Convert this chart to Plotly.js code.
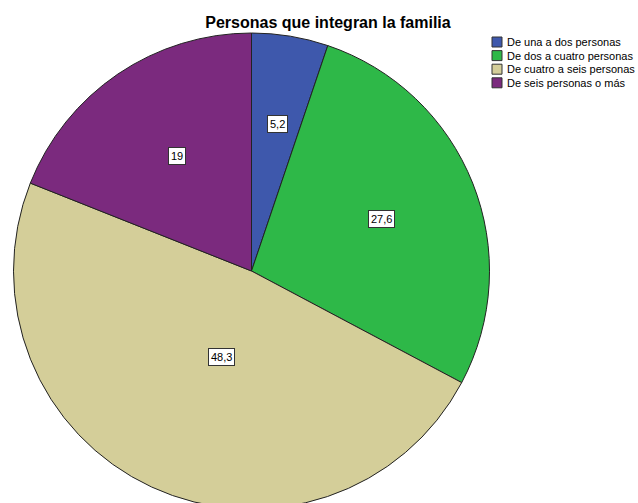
<!DOCTYPE html>
<html>
<head>
<meta charset="utf-8">
<script src="https://cdn.plot.ly/plotly-3.0.1.min.js"></script>
<style>
html,body{margin:0;padding:0;overflow:hidden;background:#fff;}
#chart{width:638px;height:516px;}
</style>
</head>
<body>
<div id="chart"></div>
<script>
const categories = ["De una a dos personas", "De dos a cuatro personas", "De cuatro a seis personas", "De seis personas o más"];
const values = [5.2, 27.6, 48.3, 19];
const valueLabels = ["5,2", "27,6", "48,3", "19"];
const colors = ["#3E58AC", "#2EB848", "#D4CE99", "#7B2A7E"];

const W = 638, H = 516;
const cx = 251.5, cy = 271, R = 238;
const FONT = "Liberation Sans, Arial, sans-serif";

const domX = [(cx - R) / W, (cx + R) / W];
const domY = [(H - cy - R) / H, (H - cy + R) / H];

// value labels placed at sector centroids (derived from the values)
const total = values.reduce((a, b) => a + b, 0);
let cum = 0;
const annotations = values.map((v, i) => {
  const half = Math.PI * v / total;
  const mid = 2 * Math.PI * (cum + v / 2) / total;
  cum += v;
  const d = R * (2 * Math.sin(half) / (3 * half));
  const px = cx + d * Math.sin(mid);
  const py = cy - d * Math.cos(mid);
  return {
    x: px / W, y: (H - py) / H, xref: "paper", yref: "paper",
    text: valueLabels[i], showarrow: false,
    font: {family: FONT, size: 11, color: "#000"},
    bgcolor: "#ffffff", bordercolor: "#333333", borderwidth: 1, borderpad: 2
  };
});

// compact legend (SPSS style) built from categories and colors
const legX = 492, legY = 42, legStep = 13.6, sq = 10;
const shapes = [];
categories.forEach((c, i) => {
  const yc = legY + i * legStep;
  shapes.push({
    type: "rect", xref: "paper", yref: "paper",
    x0: legX / W, x1: (legX + sq) / W,
    y0: (H - (yc + sq / 2)) / H, y1: (H - (yc - sq / 2)) / H,
    fillcolor: colors[i], line: {color: "#333333", width: 1}
  });
  annotations.push({
    x: (legX + sq + 3) / W, y: (H - yc) / H, xref: "paper", yref: "paper",
    xanchor: "left", yanchor: "middle",
    text: c, showarrow: false,
    font: {family: FONT, size: 11, color: "#000"}
  });
});

const data = [{
  type: "pie",
  labels: categories,
  values: values,
  sort: false,
  direction: "clockwise",
  rotation: 0,
  textinfo: "none",
  hoverinfo: "label+value",
  marker: {colors: colors, line: {color: "#222222", width: 1}},
  domain: {x: domX, y: domY}
}];

const layout = {
  width: W, height: H,
  margin: {l: 0, r: 0, t: 0, b: 0, autoexpand: false},
  paper_bgcolor: "#ffffff",
  title: {
    text: "<b>Personas que integran la familia</b>",
    x: 328 / W, xanchor: "center", xref: "paper",
    y: 1 - 22 / H, yanchor: "middle", yref: "container",
    font: {family: FONT, size: 16, color: "#000"}
  },
  showlegend: false,
  shapes: shapes,
  annotations: annotations
};

Plotly.newPlot("chart", data, layout, {displayModeBar: false, staticPlot: true});
</script>
</body>
</html>
